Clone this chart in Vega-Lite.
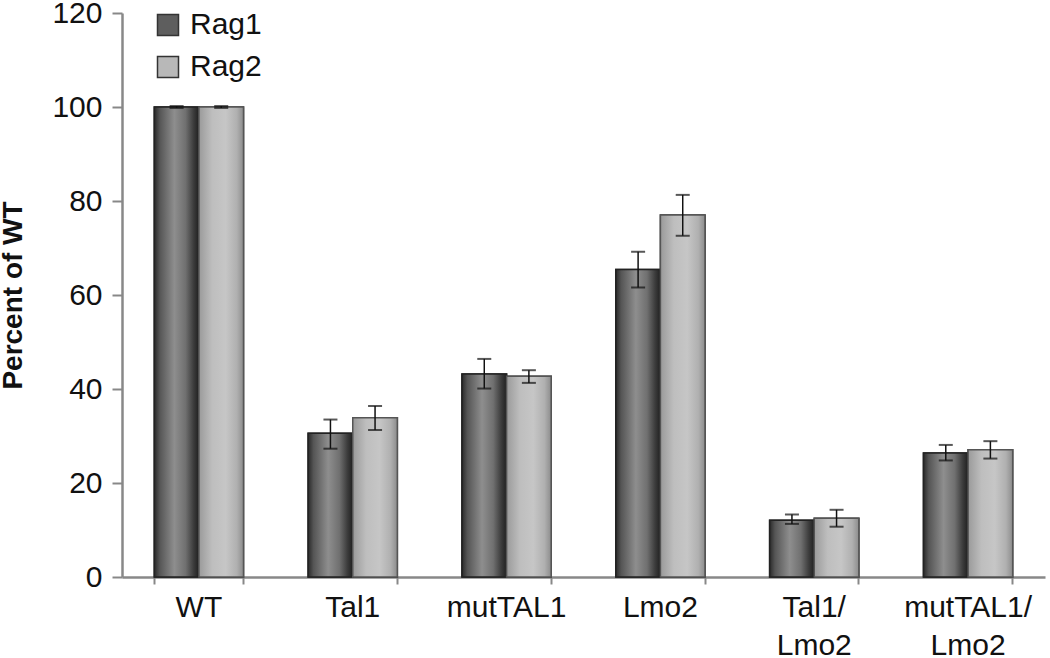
{
  "$schema": "https://vega.github.io/schema/vega-lite/v6.json",
  "width": 923,
  "height": 564,
  "autosize": "none",
  "padding": {"left": 122, "top": 13, "right": 5, "bottom": 81},
  "background": "white",
  "config": {"font": "Liberation Sans", "view": {"stroke": null}},
  "data": {
    "values": [
      {"group": "WT", "series": "Rag1", "value": 100, "lo": 99.8, "hi": 100.2},
      {"group": "WT", "series": "Rag2", "value": 100, "lo": 99.8, "hi": 100.2},
      {"group": "Tal1", "series": "Rag1", "value": 30.6, "lo": 27.3, "hi": 33.5},
      {"group": "Tal1", "series": "Rag2", "value": 33.9, "lo": 31.3, "hi": 36.4},
      {"group": "mutTAL1", "series": "Rag1", "value": 43.2, "lo": 40.1, "hi": 46.4},
      {"group": "mutTAL1", "series": "Rag2", "value": 42.7, "lo": 41.3, "hi": 44.0},
      {"group": "Lmo2", "series": "Rag1", "value": 65.4, "lo": 61.6, "hi": 69.2},
      {"group": "Lmo2", "series": "Rag2", "value": 77.0, "lo": 72.6, "hi": 81.3},
      {"group": "Tal1/Lmo2", "series": "Rag1", "value": 12.1, "lo": 11.3, "hi": 13.3},
      {"group": "Tal1/Lmo2", "series": "Rag2", "value": 12.5, "lo": 10.7, "hi": 14.3},
      {"group": "mutTAL1/Lmo2", "series": "Rag1", "value": 26.4, "lo": 24.8, "hi": 28.1},
      {"group": "mutTAL1/Lmo2", "series": "Rag2", "value": 27.1, "lo": 25.2, "hi": 28.9}
    ]
  },
  "resolve": {"axis": {"x": "independent"}},
  "layer": [
    {
      "mark": {"type": "bar", "stroke": "#2a2a2a", "strokeWidth": 1.5},
      "encoding": {
        "x": {
          "field": "group", "type": "nominal",
          "sort": ["WT", "Tal1", "mutTAL1", "Lmo2", "Tal1/Lmo2", "mutTAL1/Lmo2"],
          "scale": {"paddingInner": 0.42, "paddingOuter": 0.21},
          "axis": {
            "orient": "bottom",
            "title": null, "labelAngle": 0, "labelFontSize": 30, "labelColor": "#111",
            "labelPadding": 15, "labelBaseline": "top", "labelLineHeight": 38,
            "ticks": false, "domain": false,
            "labelExpr": "indexof(datum.value, '/') > 0 ? [slice(datum.value, 0, indexof(datum.value, '/') + 1), slice(datum.value, indexof(datum.value, '/') + 1)] : datum.value"
          }
        },
        "xOffset": {"field": "series", "type": "nominal", "scale": {"paddingInner": 0, "paddingOuter": 0}},
        "y": {
          "field": "value", "type": "quantitative",
          "scale": {"domain": [0, 120], "nice": false},
          "axis": {
            "title": "Percent of WT", "titleFontSize": 28, "titleFontWeight": "bold", "titleColor": "#111",
            "titlePadding": 24,
            "values": [0, 20, 40, 60, 80, 100, 120], "grid": false,
            "labelFontSize": 30, "labelColor": "#111", "labelPadding": 10,
            "tickSize": 10, "tickWidth": 2, "tickColor": "#888",
            "domainColor": "#888", "domainWidth": 2.5
          }
        },
        "color": {
          "field": "series", "type": "nominal",
          "scale": {"domain": ["Rag1", "Rag2"], "range": ["#5e5e5e", "#b8b8b8"]},
          "legend": {
            "orient": "none", "legendX": 31, "legendY": -3, "title": null,
            "symbolType": "square", "symbolSize": 441, "symbolStrokeColor": "#333",
            "symbolStrokeWidth": 1.5, "symbolOpacity": 1,
            "labelFontSize": 30, "labelColor": "#111", "labelOffset": 7, "rowPadding": 12
          }
        }
      }
    },
    {
      "transform": [{"filter": "datum.series === 'Rag1'"}],
      "mark": {
        "type": "bar", "stroke": "#222222", "strokeWidth": 1.5,
        "color": {"gradient": "linear", "x1": 0, "x2": 1, "y1": 0, "y2": 0, "stops": [
          {"offset": 0, "color": "#2a2a2a"},
          {"offset": 0.12, "color": "#555555"},
          {"offset": 0.45, "color": "#8e8e8e"},
          {"offset": 0.7, "color": "#707070"},
          {"offset": 0.88, "color": "#3c3c3c"},
          {"offset": 1, "color": "#202020"}
        ]}
      },
      "encoding": {
        "x": {"field": "group", "type": "nominal", "sort": ["WT", "Tal1", "mutTAL1", "Lmo2", "Tal1/Lmo2", "mutTAL1/Lmo2"], "axis": null},
        "xOffset": {"datum": "Rag1", "type": "nominal"},
        "y": {"field": "value", "type": "quantitative", "title": "Percent of WT"}
      }
    },
    {
      "transform": [{"filter": "datum.series === 'Rag2'"}],
      "mark": {
        "type": "bar", "stroke": "#555555", "strokeWidth": 1.5,
        "color": {"gradient": "linear", "x1": 0, "x2": 1, "y1": 0, "y2": 0, "stops": [
          {"offset": 0, "color": "#9a9a9a"},
          {"offset": 0.3, "color": "#bebebe"},
          {"offset": 0.6, "color": "#c6c6c6"},
          {"offset": 0.85, "color": "#b0b0b0"},
          {"offset": 1, "color": "#8c8c8c"}
        ]}
      },
      "encoding": {
        "x": {"field": "group", "type": "nominal", "sort": ["WT", "Tal1", "mutTAL1", "Lmo2", "Tal1/Lmo2", "mutTAL1/Lmo2"], "axis": null},
        "xOffset": {"datum": "Rag2", "type": "nominal"},
        "y": {"field": "value", "type": "quantitative", "title": "Percent of WT"}
      }
    },
    {
      "mark": {"type": "rule", "color": "#111", "strokeWidth": 1.5},
      "encoding": {
        "x": {
          "field": "group", "type": "nominal",
          "sort": ["WT", "Tal1", "mutTAL1", "Lmo2", "Tal1/Lmo2", "mutTAL1/Lmo2"],
          "axis": {
            "orient": "bottom",
            "title": null, "labels": false, "bandPosition": 1, "tickExtra": true,
            "tickSize": 7, "tickWidth": 2, "tickColor": "#888",
            "domainColor": "#888", "domainWidth": 2.5
          }
        },
        "xOffset": {"field": "series", "type": "nominal"},
        "y": {"field": "lo", "type": "quantitative", "title": "Percent of WT"},
        "y2": {"field": "hi"}
      }
    },
    {
      "mark": {"type": "tick", "color": "#111", "thickness": 2, "size": 14},
      "encoding": {
        "x": {"field": "group", "type": "nominal", "sort": ["WT", "Tal1", "mutTAL1", "Lmo2", "Tal1/Lmo2", "mutTAL1/Lmo2"], "axis": null},
        "xOffset": {"field": "series", "type": "nominal"},
        "y": {"field": "hi", "type": "quantitative", "title": "Percent of WT"}
      }
    },
    {
      "mark": {"type": "tick", "color": "#111", "thickness": 2, "size": 14},
      "encoding": {
        "x": {"field": "group", "type": "nominal", "sort": ["WT", "Tal1", "mutTAL1", "Lmo2", "Tal1/Lmo2", "mutTAL1/Lmo2"], "axis": null},
        "xOffset": {"field": "series", "type": "nominal"},
        "y": {"field": "lo", "type": "quantitative", "title": "Percent of WT"}
      }
    }
  ]
}
